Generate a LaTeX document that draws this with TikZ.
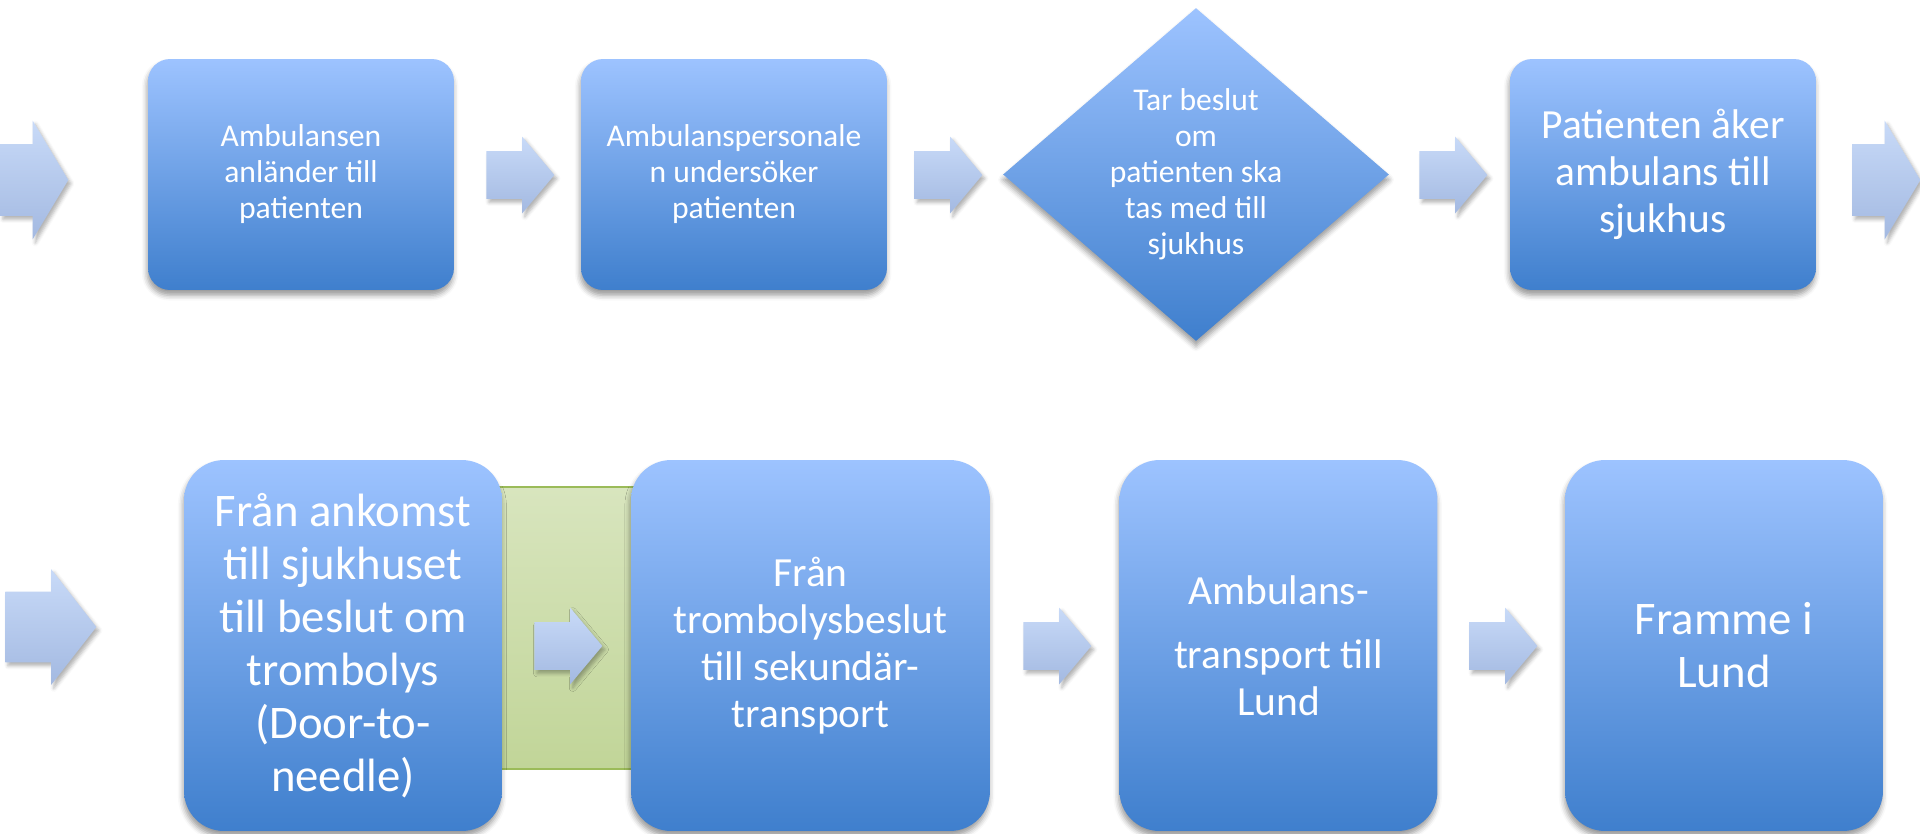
\documentclass[tikz,border=0pt]{standalone}
\usepackage{fontspec}
\setmainfont{Carlito}
\usetikzlibrary{shapes.geometric,shapes.arrows,shadows.blur}

\definecolor{stegtop}{RGB}{157,195,255}
\definecolor{stegbot}{RGB}{63,127,205}
\definecolor{piltop}{RGB}{200,218,248}
\definecolor{pilbot}{RGB}{163,185,225}
\definecolor{fastop}{RGB}{216,229,190}
\definecolor{fasbot}{RGB}{193,213,152}
\definecolor{faskant}{RGB}{155,187,89}

\tikzset{
  steg/.style={rectangle, top color=stegtop, bottom color=stegbot, text=white, align=center, inner sep=0pt,
    blur shadow={shadow xshift=-0.5pt, shadow yshift=-3pt, shadow blur radius=3pt, shadow opacity=40}},
  stegliten/.style={steg, rounded corners=0.44cm, minimum width=6.12cm, minimum height=4.62cm},
  steghog/.style={steg, rounded corners=0.8cm, minimum width=6.36cm, minimum height=7.42cm},
  textliten/.style={font=\fontsize{18}{20.5}\selectfont},
  textmellan/.style={font=\fontsize{23.6}{26.7}\selectfont},
  textstor/.style={font=\fontsize{26.6}{30.2}\selectfont},
  pil/.style={single arrow, inner xsep=0pt, top color=piltop, bottom color=pilbot, anchor=tail,
    blur shadow={shadow xshift=1.5pt, shadow yshift=-2pt, shadow blur radius=2pt, shadow opacity=30}},
  litenpil/.style={pil, inner ysep=0.47cm, single arrow head extend=0.29cm, minimum height=1.36cm, single arrow tip angle=100},
  storpil/.style={pil, inner ysep=0.71cm, single arrow head extend=0.47cm, minimum height=1.36cm, single arrow tip angle=118},
}

\begin{document}
\begin{tikzpicture}[x=0.02cm, y=-0.02cm]
\useasboundingbox (0,0) rectangle (1920,833);

% övre raden
\node[storpil] (pil0) at (0,180) {};
\node[stegliten, textliten] (ankomst) at (301,174.5) {Ambulansen\\anländer till\\patienten};
\node[litenpil] (pil1) at (486,175) {};
\node[stegliten, textliten] (undersok) at (734,174.5) {Ambulanspersonale\\n undersöker\\patienten};
\node[litenpil] (pil2) at (914,175) {};
\node[diamond, inner sep=0pt, minimum width=7.72cm, minimum height=6.66cm, top color=stegtop, bottom color=stegbot,
  blur shadow={shadow xshift=0pt, shadow yshift=-3pt, shadow blur radius=3pt, shadow opacity=40},
  label={[text=white, align=center, textliten]center:{Tar beslut\\om\\patienten ska\\tas med till\\sjukhus}}] (beslut) at (1196,174.5) {};
\node[litenpil] (pil3) at (1419,175) {};
\node[stegliten, textmellan] (aker) at (1663,174.5) {Patienten åker\\ambulans till\\sjukhus};
\node[storpil] (pil4) at (1852,180) {};

% nedre raden
\node[rectangle, draw=faskant, line width=0.85pt, top color=fastop, bottom color=fasbot,
  minimum width=3.8cm, minimum height=5.64cm] (fas) at (565,628) {};
\node[storpil, inner ysep=0.70cm, single arrow head extend=0.45cm, minimum height=1.82cm, single arrow tip angle=104] (pil5) at (5,627) {};
\node[steghog, textstor] (dtn) at (343,645.5) {Från ankomst\\till sjukhuset\\till beslut om\\trombolys\\(Door-to-\\needle)};
\node[litenpil] (pil6) at (534,646) {};
\node[steghog, textmellan, minimum width=7.18cm] (sekundar) at (810.5,645.5) {Från\\trombolysbeslut\\till sekundär-\\transport};
\node[litenpil] (pil7) at (1023,646) {};
\node[steghog, textmellan] (lund) at (1278.5,645.5) {Ambulans-\\[10pt]transport till\\Lund};
\node[litenpil] (pil8) at (1469,646) {};
\node[steghog, textstor] (framme) at (1724,645.5) {Framme i\\Lund};
\end{tikzpicture}
\end{document}
